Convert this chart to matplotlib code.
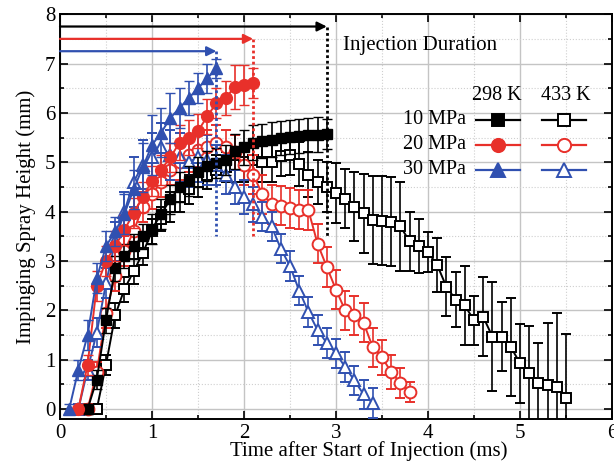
import numpy as np
import matplotlib
matplotlib.use("Agg")
import matplotlib.pyplot as plt
from matplotlib.lines import Line2D

plt.rcParams['font.family'] = ['Liberation Serif', 'DejaVu Serif']

# ---- data (time in ms, height in mm) ----
t_10_298 = np.round(np.arange(0.3, 2.91, 0.1), 2)
h_10_298 = [0.0, 0.6, 1.8, 2.85, 3.1, 3.3, 3.5, 3.65, 3.95, 4.25, 4.5, 4.62, 4.8,
            4.92, 4.98, 5.05, 5.22, 5.3, 5.4, 5.43, 5.46, 5.49, 5.51, 5.53, 5.55, 5.56, 5.57]
e_10_298 = [0.1, 0.2, 0.25, 0.25, 0.25, 0.25, 0.25, 0.3, 0.3, 0.3, 0.3, 0.3, 0.3,
            0.3, 0.3, 0.3, 0.35, 0.35, 0.35, 0.35, 0.35, 0.35, 0.35, 0.35, 0.35, 0.35, 0.3]

t_20_298 = np.round(np.arange(0.2, 2.11, 0.1), 2)
h_20_298 = [0.0, 0.9, 2.5, 3.0, 3.3, 3.63, 3.97, 4.3, 4.62, 4.85, 5.1, 5.4, 5.5,
            5.63, 5.93, 6.2, 6.3, 6.53, 6.57, 6.6]
e_20_298 = [0.1, 0.2, 0.3, 0.3, 0.3, 0.3, 0.3, 0.3, 0.3, 0.3, 0.3, 0.35, 0.35,
            0.35, 0.35, 0.3, 0.35, 0.45, 0.4, 0.3]

t_30_298 = np.round(np.arange(0.1, 1.71, 0.1), 2)
h_30_298 = [0.0, 0.8, 1.5, 2.65, 3.3, 3.6, 3.95, 4.45, 4.9, 5.35, 5.6, 5.9, 6.1,
            6.3, 6.5, 6.7, 6.9]
e_30_298 = [0.1, 0.2, 0.3, 0.3, 0.3, 0.3, 0.4, 0.4, 0.5, 0.6, 0.5, 0.5, 0.4,
            0.35, 0.3, 0.3, 0.2]

t_10_433 = np.round(np.arange(0.4, 5.51, 0.1), 2)
h_10_433 = [0.0, 0.9, 1.9, 2.43, 2.79, 3.16, 3.6, 3.85, 4.1, 4.3, 4.45, 4.6, 4.75,
            4.85, 4.9, 4.95, 5.0, 5.05, 5.0, 5.0, 5.12, 5.15, 4.97, 4.75, 4.6, 4.5,
            4.38, 4.26, 4.1, 3.97, 3.83, 3.82, 3.8, 3.7, 3.4, 3.3, 3.18, 2.92, 2.48,
            2.22, 2.1, 1.8, 1.87, 1.47, 1.47, 1.26, 0.93, 0.73, 0.53, 0.49, 0.45, 0.22]
e_10_433 = [0.1, 0.2, 0.25, 0.25, 0.25, 0.25, 0.25, 0.25, 0.3, 0.3, 0.3, 0.3, 0.3,
            0.3, 0.3, 0.35, 0.4, 0.4, 0.4, 0.4, 0.4, 0.4, 0.45, 0.45, 0.45, 0.5,
            0.6, 0.6, 0.7, 0.8, 0.9, 0.9, 0.9, 0.9, 0.6, 0.55, 0.4, 0.55, 0.6,
            0.55, 0.8, 0.5, 0.8, 1.1, 0.7, 1.0, 0.8, 0.95, 0.8, 1.25, 1.5, 1.3]

t_20_433 = np.round(np.arange(0.3, 3.81, 0.1), 2)
h_20_433 = [0.0, 0.75, 1.95, 2.7, 3.2, 3.6, 4.1, 4.35, 4.6, 4.85, 5.0, 5.15, 5.25,
            5.3, 5.4, 5.3, 5.2, 4.95, 4.75, 4.35, 4.15, 4.12, 4.07, 4.04, 4.03,
            3.35, 2.88, 2.42, 2.0, 1.9, 1.75, 1.25, 1.05, 0.75, 0.53, 0.35]
e_20_433 = [0.1, 0.2, 0.3, 0.3, 0.3, 0.3, 0.3, 0.3, 0.3, 0.3, 0.35, 0.35, 0.35,
            0.35, 0.35, 0.35, 0.35, 0.4, 0.4, 0.4, 0.4, 0.4, 0.4, 0.4, 0.4,
            0.4, 0.4, 0.4, 0.4, 0.4, 0.4, 0.4, 0.35, 0.35, 0.3, 0.2]

t_30_433 = np.round(np.arange(0.2, 3.41, 0.1), 2)
h_30_433 = [0.0, 0.8, 1.55, 2.55, 3.4, 4.0, 4.6, 4.95, 5.1, 5.3, 5.15, 5.1, 5.0,
            5.1, 5.05, 4.95, 4.75, 4.5, 4.3, 4.15, 3.9, 3.7, 3.25, 2.9, 2.4, 1.97,
            1.6, 1.34, 1.13, 0.85, 0.58, 0.3, 0.12]
e_30_433 = [0.1, 0.2, 0.3, 0.3, 0.4, 0.4, 0.5, 0.5, 0.5, 0.5, 0.5, 0.5, 0.5,
            0.5, 0.5, 0.4, 0.4, 0.35, 0.35, 0.35, 0.3, 0.3, 0.3, 0.3, 0.3, 0.3,
            0.3, 0.3, 0.3, 0.3, 0.3, 0.3, 0.3]

durations = [2.9, 2.1, 1.7]          # injection duration (ms) for 10/20/30 MPa
arrow_levels = [7.75, 7.5, 7.25]
dotted_bottom = 3.5

pressures = ['10 MPa', '20 MPa', '30 MPa']
temps = ['298 K', '433 K']
colors = ['black', '#e8302a', '#3050b0']
markers = ['s', 'o', '^']

# ---- figure ----
fig = plt.figure(figsize=(6.14, 4.68), dpi=100)
ax = fig.add_axes([0.0977, 0.1047, 0.899, 0.865])

ax.set_xlim(0, 6)
ax.set_ylim(-0.2, 8)
ax.set_xticks(np.arange(0, 7, 1))
ax.set_yticks(np.arange(0, 9, 1))
ax.set_xticks(np.arange(0, 6.01, 0.5), minor=True)
ax.set_yticks(np.arange(0, 8.01, 0.5), minor=True)
ax.grid(True, which='major', color='#c4c4c4', lw=1.0, ls='-')
ax.grid(True, which='minor', color='#cfcfcf', lw=0.8, ls=':')
ax.set_axisbelow(True)
ax.tick_params(which='both', direction='in', top=True, right=True, labelsize=15, width=1.2)
ax.tick_params(which='major', length=6)
ax.tick_params(which='minor', length=3)
for s in ax.spines.values():
    s.set_linewidth(1.4)

ax.set_xlabel('Time after Start of Injection (ms)', fontsize=15, labelpad=3)
ax.xaxis.set_label_coords(0.56, -0.055)
ax.set_ylabel('Impinging Spray Height (mm)', fontsize=15, labelpad=6)

hot = [(t_10_433, h_10_433, e_10_433), (t_20_433, h_20_433, e_20_433), (t_30_433, h_30_433, e_30_433)]
cold = [(t_10_298, h_10_298, e_10_298), (t_20_298, h_20_298, e_20_298), (t_30_298, h_30_298, e_30_298)]
msz = [7.5, 8.5, 8.5]

for i, (t, h, e) in enumerate(hot):
    ax.errorbar(t, h, yerr=e, color=colors[i], marker=markers[i], ms=msz[i],
                mfc='white', mec=colors[i], mew=1.4, lw=1.4, capsize=3.5,
                elinewidth=1.2, capthick=1.2, zorder=3 + i * 0.1, clip_on=True)
for i, (t, h, e) in enumerate(cold):
    ax.errorbar(t, h, yerr=e, color=colors[i], marker=markers[i], ms=msz[i],
                mfc=colors[i], mec=colors[i], mew=1.0, lw=1.4, capsize=3.5,
                elinewidth=1.2, capthick=1.2, zorder=4 + i * 0.1, clip_on=True)

# injection duration arrows and dotted lines
for d, yl, c in zip(durations, arrow_levels, colors):
    ax.annotate('', xy=(d, yl), xytext=(0, yl),
                arrowprops=dict(arrowstyle='-|>', color=c, lw=1.6,
                                mutation_scale=14, shrinkA=0, shrinkB=0), zorder=6)
    ax.plot([d, d], [yl, dotted_bottom], color=c, ls=(0, (1, 1)), lw=2.0, zorder=6)

ax.text(3.08, 7.36, 'Injection Duration', fontsize=15, va='center', ha='left', zorder=7)

# custom legend table (axes coordinates)
tr = ax.transAxes
ax.text(0.792, 0.799, temps[0], transform=tr, ha='center', va='center', fontsize=14.5)
ax.text(0.917, 0.799, temps[1], transform=tr, ha='center', va='center', fontsize=14.5)
row_y = [0.739, 0.677, 0.616]
for i in range(3):
    ax.text(0.735, row_y[i], pressures[i], transform=tr, ha='right', va='center', fontsize=14.5)
    for (x0, x1, xm, fc) in [(0.753, 0.833, 0.793, colors[i]), (0.873, 0.953, 0.913, 'white')]:
        ax.add_line(Line2D([x0, x1], [row_y[i], row_y[i]], transform=tr, color=colors[i], lw=1.6, zorder=8))
        ax.add_line(Line2D([xm], [row_y[i]], transform=tr, marker=markers[i], ms=msz[i] + 1,
                           mfc=fc, mec=colors[i], mew=1.4, color=colors[i], zorder=9))

fig.savefig('out.png', dpi=100)
